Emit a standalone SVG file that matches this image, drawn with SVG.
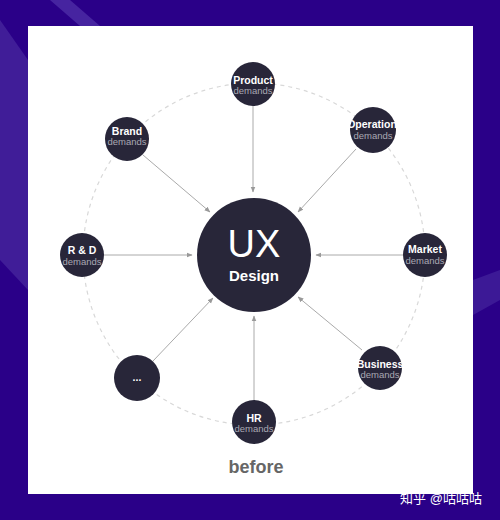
<svg xmlns="http://www.w3.org/2000/svg" width="500" height="520" viewBox="0 0 500 520">
<defs>
<style>
.node circle{fill:#282639}
.t1{font-family:"Liberation Sans",Arial,sans-serif;font-size:10.5px;font-weight:bold;fill:#fff;text-anchor:middle}
.t2{font-family:"Liberation Sans",Arial,sans-serif;font-size:9.5px;fill:#a9a8b3;text-anchor:middle}
.conn line{stroke:#aaa;stroke-width:1;marker-end:url(#ah)}
</style>
<marker id="ah" viewBox="0 0 10 10" refX="9" refY="5" markerWidth="6" markerHeight="6" orient="auto" markerUnits="userSpaceOnUse">
<path d="M0,1 L10,5 L0,9 z" fill="#999"/>
</marker>
</defs>
<rect width="500" height="520" fill="#2a0088"/>
<polygon points="0,20 0,260 28,290 28,60" fill="#4a2aa0" opacity="0.7"/>
<polygon points="50,0 70,0 100,26 80,26" fill="#5a3cb0" opacity="0.6"/>
<polygon points="473,280 500,270 500,300 473,315" fill="#4a2aa0" opacity="0.6"/>
<rect x="28" y="26" width="445" height="468" fill="#fff"/>
<circle cx="254" cy="254" r="171" fill="none" stroke="#d8d8d8" stroke-width="1.2" stroke-dasharray="4,4"/>
<g id="connectors" class="conn">
<line x1="253" y1="106" x2="253" y2="192"/>
<line x1="143" y1="155" x2="210" y2="212"/>
<line x1="356" y1="149" x2="298" y2="212"/>
<line x1="104" y1="255" x2="192" y2="255"/>
<line x1="403" y1="255" x2="316" y2="255"/>
<line x1="153" y1="361" x2="213" y2="298"/>
<line x1="362" y1="350" x2="298" y2="297"/>
<line x1="254" y1="400" x2="254" y2="316"/>
</g>
<g id="center" class="node">
<circle cx="254" cy="255" r="57"/>
<text x="254" y="257" font-family="Liberation Sans,Arial,sans-serif" font-size="38" fill="#fff" text-anchor="middle">UX</text>
<text x="254" y="281" font-family="Liberation Sans,Arial,sans-serif" font-size="15" font-weight="bold" fill="#fff" text-anchor="middle">Design</text>
</g>
<g id="product" class="node"><circle cx="253" cy="84" r="22"/><text class="t1" x="253" y="84">Product</text><text class="t2" x="253" y="94">demands</text></g>
<g id="brand" class="node"><circle cx="127" cy="139" r="22"/><text class="t1" x="127" y="135">Brand</text><text class="t2" x="127" y="145">demands</text></g>
<g id="operation" class="node"><circle cx="373" cy="130" r="23"/><text class="t1" x="372" y="128">Operation</text><text class="t2" x="373" y="139">demands</text></g>
<g id="rd" class="node"><circle cx="82" cy="255" r="22"/><text class="t1" x="82" y="254" font-weight="normal">R &amp; D</text><text class="t2" x="82" y="265">demands</text></g>
<g id="market" class="node"><circle cx="425" cy="255" r="22"/><text class="t1" x="425" y="253">Market</text><text class="t2" x="425" y="264">demands</text></g>
<g id="more" class="node"><circle cx="137" cy="378" r="23"/><text class="t1" x="137" y="381" font-weight="normal">...</text></g>
<g id="business" class="node"><circle cx="380" cy="368" r="22"/><text class="t1" x="380" y="368">Business</text><text class="t2" x="380" y="378">demands</text></g>
<g id="hr" class="node"><circle cx="254" cy="422" r="22"/><text class="t1" x="254" y="422" font-weight="normal">HR</text><text class="t2" x="254" y="432">demands</text></g>
<text x="256" y="473" font-family="Liberation Sans,Arial,sans-serif" font-size="18" font-weight="bold" fill="#666" text-anchor="middle">before</text>
<text x="441" y="503" font-family="Liberation Sans,'Noto Sans CJK SC',sans-serif" font-size="13" fill="#fff" text-anchor="middle">知乎 @咕咕咕</text>
</svg>
